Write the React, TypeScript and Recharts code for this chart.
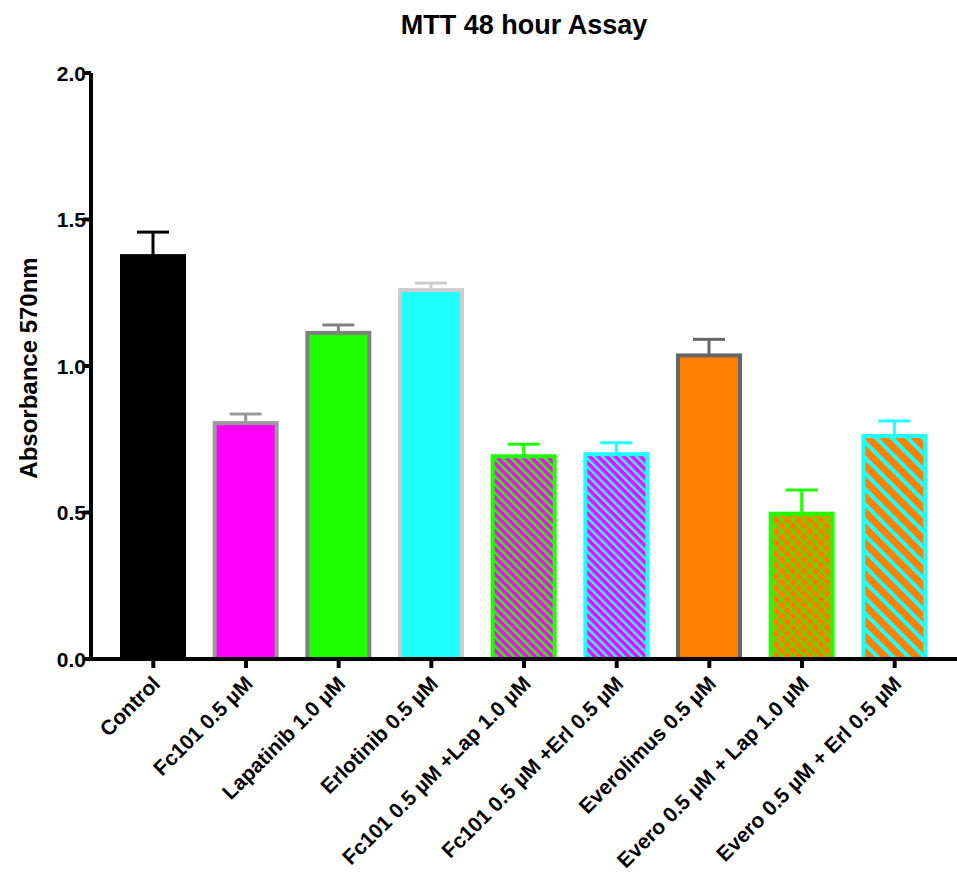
import React from "react";
import { BarChart, Bar, XAxis, YAxis } from "recharts";

const categories = [
  "Control",
  "Fc101 0.5 µM",
  "Lapatinib 1.0 µM",
  "Erlotinib 0.5 µM",
  "Fc101 0.5 µM +Lap 1.0 µM",
  "Fc101 0.5 µM +Erl 0.5 µM",
  "Everolimus 0.5 µM",
  "Evero 0.5 µM + Lap 1.0 µM",
  "Evero 0.5 µM + Erl 0.5 µM",
];
const means = [1.375, 0.805, 1.113, 1.259, 0.692, 0.699, 1.036, 0.496, 0.761];
const errors = [0.082, 0.031, 0.027, 0.024, 0.041, 0.039, 0.055, 0.081, 0.051];
const yTicks = [0, 0.5, 1.0, 1.5, 2.0];

const MAGENTA = "#FF00FF";
const GREEN = "#1EFF00";
const CYAN = "#1EFFFF";
const ORANGE = "#FF8000";

const fills = [
  "#000000",
  MAGENTA,
  GREEN,
  CYAN,
  "url(#fcLap)",
  "url(#fcErl)",
  ORANGE,
  "url(#evLap)",
  "url(#evErl)",
];
const borders = ["#000000", "#999999", "#808080", "#CCCCCC", GREEN, CYAN, "#666666", GREEN, CYAN];

const data = categories.map((name, i) => ({
  name,
  value: means[i],
  err: errors[i],
  fill: fills[i],
  border: borders[i],
}));

const FONT = "Arial, 'Liberation Sans', Helvetica, sans-serif";

function BarWithError(props: any) {
  const { x, y, width, height, payload } = props;
  const unit = height / payload.value;
  const top = y - payload.err * unit;
  const cx = x + width / 2;
  return (
    <g>
      <line x1={cx} x2={cx} y1={y} y2={top} stroke={payload.border} strokeWidth={3} />
      <line x1={cx - 16} x2={cx + 16} y1={top} y2={top} stroke={payload.border} strokeWidth={3} />
      <rect x={x} y={y} width={width} height={height} fill={payload.fill} stroke={payload.border} strokeWidth={4} />
    </g>
  );
}

function XTick(props: any) {
  const { x, y, payload } = props;
  return (
    <g transform={`translate(${x + 8},${y + 15}) rotate(-45)`}>
      <text x={0} y={0} textAnchor="end" fontFamily={FONT} fontWeight="bold" fontSize={21} fill="#000">
        {payload.value}
      </text>
    </g>
  );
}

function YTick(props: any) {
  const { x, y, payload } = props;
  return (
    <text x={x + 3} y={y} textAnchor="end" dominantBaseline="central" fontFamily={FONT} fontWeight="bold" fontSize={21} fill="#000">
      {Number(payload.value).toFixed(1)}
    </text>
  );
}

function YLabel(props: any) {
  const { viewBox } = props;
  const cy = viewBox.y + viewBox.height / 2 + 2;
  return (
    <text
      x={28}
      y={cy}
      transform={`rotate(-90 28 ${cy})`}
      textAnchor="middle"
      dominantBaseline="central"
      fontFamily={FONT}
      fontWeight="bold"
      fontSize={24}
      fill="#000"
    >
      Absorbance 570nm
    </text>
  );
}

export default function App() {
  return (
    <div style={{ position: "absolute", left: 0, top: 0, width: 957, height: 884, background: "#fff" }}>
      <div
        style={{
          position: "absolute",
          left: 91,
          width: 866,
          top: 10,
          textAlign: "center",
          fontFamily: FONT,
          fontWeight: "bold",
          fontSize: 27,
        }}
      >
        MTT 48 hour Assay
      </div>
      <BarChart width={957} height={884} data={data} margin={{ top: 73, right: 0, bottom: 0, left: 11 }}>
        <defs>
          <pattern id="fcLap" width="6" height="6" patternUnits="userSpaceOnUse" patternTransform="rotate(-45)">
            <rect width="6" height="6" fill={MAGENTA} />
            <rect width="2.5" height="6" fill={GREEN} />
          </pattern>
          <pattern id="fcErl" width="6" height="6" patternUnits="userSpaceOnUse" patternTransform="rotate(-45)">
            <rect width="6" height="6" fill={MAGENTA} />
            <rect width="2.5" height="6" fill={CYAN} />
          </pattern>
          <pattern id="evLap" width="8" height="8" patternUnits="userSpaceOnUse" patternTransform="rotate(-45)">
            <rect width="8" height="8" fill={ORANGE} />
            <rect width="1.5" height="8" fill={GREEN} />
            <rect width="8" height="1" fill={GREEN} />
          </pattern>
          <pattern id="evErl" width="11" height="11" patternUnits="userSpaceOnUse" patternTransform="rotate(-45)">
            <rect width="11" height="11" fill={ORANGE} />
            <rect width="4" height="11" fill={CYAN} />
          </pattern>
        </defs>
        <XAxis
          dataKey="name"
          interval={0}
          height={225}
          padding={{ left: 16, right: 16 }}
          axisLine={{ stroke: "#000", strokeWidth: 4 }}
          tickLine={{ stroke: "#000", strokeWidth: 4 }}
          tickSize={9}
          tick={<XTick />}
        />
        <YAxis
          domain={[0, 2]}
          ticks={yTicks}
          width={80}
          interval={0}
          axisLine={{ stroke: "#000", strokeWidth: 4 }}
          tickLine={{ stroke: "#000", strokeWidth: 4 }}
          tickSize={8}
          tickMargin={0}
          tick={<YTick />}
          label={<YLabel />}
        />
        <Bar dataKey="value" barSize={62} shape={<BarWithError />} isAnimationActive={false} />
      </BarChart>
    </div>
  );
}
